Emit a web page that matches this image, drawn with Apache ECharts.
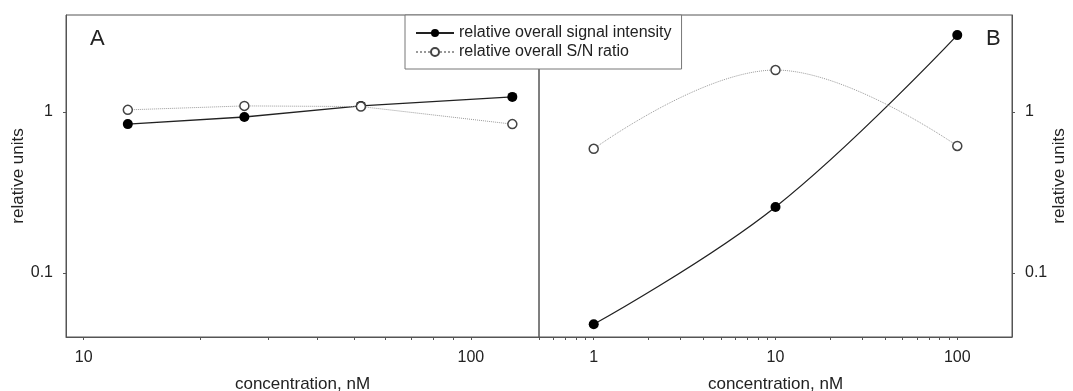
<!DOCTYPE html>
<html>
<head>
<meta charset="utf-8">
<script src="https://cdn.jsdelivr.net/npm/echarts@6/dist/echarts.min.js"></script>
<style>
  html, body { margin: 0; padding: 0; background: #fff; }
  #chart { width: 1073px; height: 391px; }
</style>
</head>
<body>
<div id="chart"></div>
<script>
// panel A: concentration, nM (log)
var concA = [13, 26, 52, 128];
var signalA = [0.84, 0.93, 1.09, 1.24];
var snA = [1.03, 1.09, 1.08, 0.84];

// panel B
var concB = [1, 10, 100];
var signalB = [0.048, 0.257, 3.0];
var snB = [0.59, 1.82, 0.615];

// tick labels / tick marks
var xLabelsA = [10, 100];
var xTicksA = [10, 20, 30, 40, 50, 60, 70, 80, 90, 100];
var xLabelsB = [1, 10, 100];
var xTicksB = [0.5, 0.6, 0.7, 0.8, 0.9, 1, 2, 3, 4, 5, 6, 7, 8, 9, 10, 20, 30, 40, 50, 60, 70, 80, 90, 100];
var yLabels = [0.1, 1];

var nameSignal = 'relative overall signal intensity';
var nameSN = 'relative overall S/N ratio';

var font = 'Liberation Sans, Arial, sans-serif';
var axisColor = '#555';
var textColor = '#222';

function pairs(xs, ys) {
    return xs.map(function (x, i) { return [x, ys[i]]; });
}

function xAxisFor(grid, min, max, labels, ticks) {
    return {
        type: 'log', gridIndex: grid, min: min, max: max,
        name: 'concentration, nM', nameLocation: 'middle', nameGap: 39,
        nameTextStyle: { fontSize: 17, color: textColor, fontFamily: font },
        axisLine: { lineStyle: { color: axisColor } },
        axisTick: { show: true, length: 3, customValues: ticks, lineStyle: { color: axisColor } },
        axisLabel: { customValues: labels, margin: 13, fontSize: 16, color: textColor, fontFamily: font },
        splitLine: { show: false }
    };
}

function yAxisFor(grid, pos, gap) {
    return {
        type: 'log', gridIndex: grid, min: 0.04, max: 4, position: pos,
        name: 'relative units', nameLocation: 'middle', nameGap: gap,
        nameTextStyle: { fontSize: 17, color: textColor, fontFamily: font },
        axisLine: { show: true, lineStyle: { color: axisColor } },
        axisTick: { show: true, length: 3, customValues: yLabels, lineStyle: { color: axisColor } },
        axisLabel: { customValues: yLabels, margin: 13, fontSize: 16, color: textColor, fontFamily: font },
        splitLine: { show: false }
    };
}

function signalSeries(grid, xs, ys, smooth) {
    return {
        name: nameSignal, type: 'line', xAxisIndex: grid, yAxisIndex: grid,
        data: pairs(xs, ys), smooth: smooth,
        symbol: 'circle', symbolSize: 10,
        itemStyle: { color: '#000' },
        lineStyle: { color: '#222', width: 1.3 }
    };
}

function snSeries(grid, xs, ys, smooth) {
    return {
        name: nameSN, type: 'line', xAxisIndex: grid, yAxisIndex: grid,
        data: pairs(xs, ys), smooth: smooth,
        symbol: 'circle', symbolSize: 9,
        itemStyle: { color: '#fff', borderColor: '#444', borderWidth: 1.5 },
        lineStyle: { color: '#999', width: 1, type: 'dotted' }
    };
}

var chart = echarts.init(document.getElementById('chart'));
var option = {
    animation: false,
    title: [
        { text: 'A', left: 85, top: 23, textStyle: { fontSize: 22, fontWeight: 'normal', color: textColor, fontFamily: font } },
        { text: 'B', left: 981, top: 23, textStyle: { fontSize: 22, fontWeight: 'normal', color: textColor, fontFamily: font } }
    ],
    legend: {
        data: [nameSignal, nameSN],
        orient: 'vertical', left: 405, top: 15,
        padding: [10, 10, 9, 10], itemGap: 3,
        itemWidth: 38, itemHeight: 10,
        borderColor: '#777', borderWidth: 1, backgroundColor: '#fff',
        textStyle: { fontSize: 16, color: textColor, fontFamily: font }
    },
    grid: [
        { left: 66, right: 534, top: 15, bottom: 54, outerBoundsMode: 'none', show: true, borderColor: axisColor, borderWidth: 1 },
        { left: 539, right: 61, top: 15, bottom: 54, outerBoundsMode: 'none', show: true, borderColor: axisColor, borderWidth: 1 }
    ],
    xAxis: [
        xAxisFor(0, 9, 150, xLabelsA, xTicksA),
        xAxisFor(1, 0.5, 200, xLabelsB, xTicksB)
    ],
    yAxis: [
        yAxisFor(0, 'left', 39),
        yAxisFor(1, 'right', 38)
    ],
    series: [
        signalSeries(0, concA, signalA, false),
        snSeries(0, concA, snA, false),
        signalSeries(1, concB, signalB, 0.4),
        snSeries(1, concB, snB, 0.4)
    ]
};
chart.setOption(option);
</script>
</body>
</html>
